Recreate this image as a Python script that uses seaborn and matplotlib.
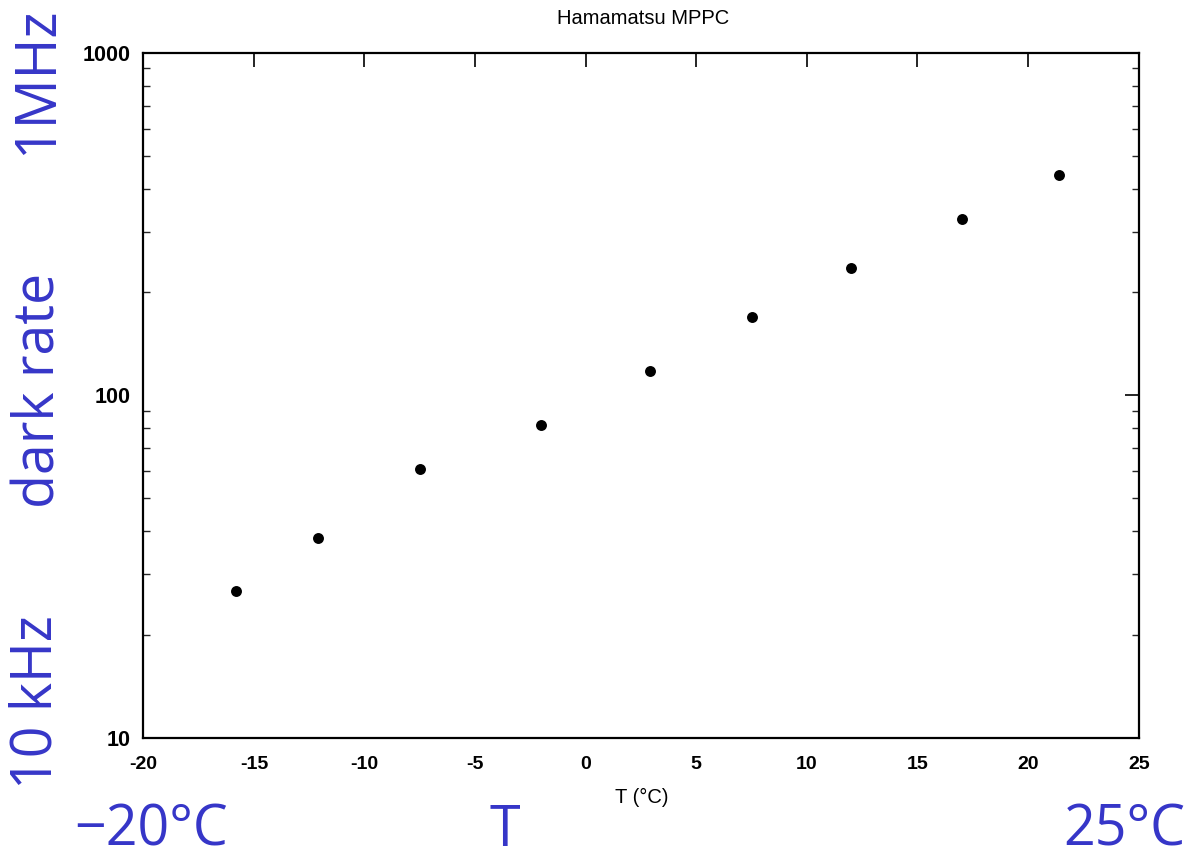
import matplotlib
matplotlib.use("Agg")
import matplotlib.pyplot as plt
from matplotlib.ticker import LogLocator, NullFormatter, FixedLocator
import seaborn as sns
import pandas as pd

# Dark count rate of a Hamamatsu MPPC versus temperature
temperature_c = [-15.8, -12.1, -7.5, -2.0, 2.9, 7.5, 12.0, 17.0, 21.4]
dark_rate = [26.9, 38.3, 60.7, 81.8, 118.0, 169.5, 235.7, 327.6, 439.5]

x_ticks = [-20, -15, -10, -5, 0, 5, 10, 15, 20, 25]
y_ticks = [10, 100, 1000]
y_tick_labels = ["10", "100", "1000"]

df = pd.DataFrame({"T": temperature_c, "rate": dark_rate})

sns.set_theme(style="white")
plt.rcParams["font.family"] = ["Liberation Sans", "DejaVu Sans"]

fig = plt.figure(figsize=(11.99, 8.59), dpi=100)
ax = fig.add_axes([0.1195, 0.1412, 0.8302, 0.7975])

sns.scatterplot(data=df, x="T", y="rate", ax=ax, color="black",
                s=62, edgecolor="black", linewidth=0, legend=False)

ax.set_yscale("log")
ax.set_xlim(-20, 25)
ax.set_ylim(10, 1000)

ax.xaxis.set_major_locator(FixedLocator(x_ticks))
ax.set_xticklabels([str(t) for t in x_ticks], fontsize=14, fontweight="bold")
ax.yaxis.set_major_locator(FixedLocator(y_ticks))
ax.set_yticklabels(y_tick_labels, fontsize=15.5, fontweight="bold")
ax.yaxis.set_minor_locator(LogLocator(base=10, subs=range(2, 10)))
ax.yaxis.set_minor_formatter(NullFormatter())

ax.tick_params(which="major", direction="in", length=10, width=1.2,
               top=True, right=True, colors="black")
ax.tick_params(which="minor", direction="in", length=5, width=1.0,
               left=True, right=True, top=False, bottom=False)
ax.tick_params(axis="x", which="major", pad=13)
ax.tick_params(axis="y", which="major", pad=9)

for sp in ax.spines.values():
    sp.set_color("black")
    sp.set_linewidth(1.6)

ax.set_xlabel("")
ax.set_ylabel("")
fig.text(642 / 1199, 1 - 797 / 859, "T (\u00b0C)", fontsize=14.5,
         ha="center", va="center", color="black")
fig.text(643 / 1199, 1 - 19 / 859, "Hamamatsu MPPC", fontsize=14.5,
         ha="center", va="center", color="black")

# Large annotations around the plot frame
blue = "#3636c8"
big = dict(color=blue, fontsize=40, family=["Open Sans", "DejaVu Sans"])
fig.text(37.5 / 1199, 1 - 81 / 859, "1MHz", rotation=90, ha="center", va="center", **big)
fig.text(40 / 1199, 1 - 390 / 859, "dark rate", rotation=90, ha="center", va="center", **big)
fig.text(37.5 / 1199, 1 - 702 / 859, "10 kHz", rotation=90, ha="center", va="center", **big)
fig.text(151 / 1199, 1 - 831 / 859, "\u221220\u00b0C", ha="center", va="center", **big)
fig.text(505 / 1199, 1 - 831 / 859, "T", ha="center", va="center", **big)
fig.text(1124 / 1199, 1 - 831 / 859, "25\u00b0C", ha="center", va="center", **big)

fig.savefig("out.png", dpi=100, facecolor="white")
